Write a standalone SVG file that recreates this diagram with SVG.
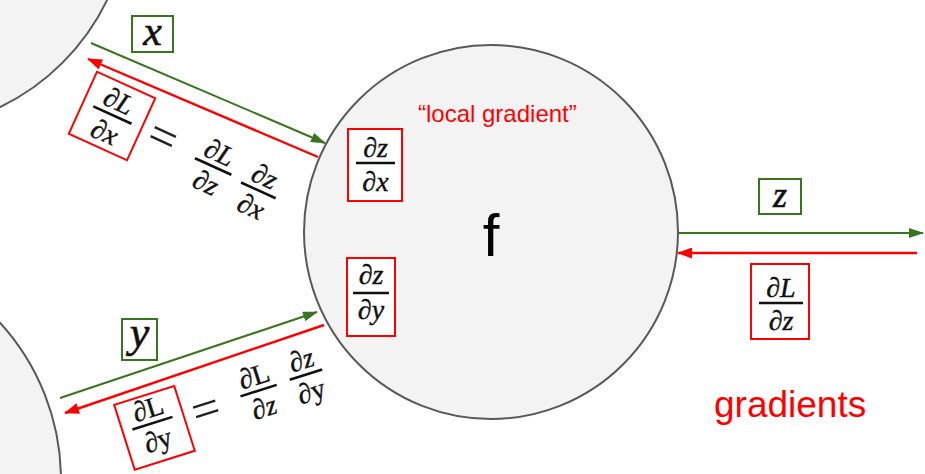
<svg xmlns="http://www.w3.org/2000/svg" width="925" height="474" viewBox="0 0 925 474">
<style>
.node{fill:#f3f3f3;stroke:#595959;stroke-width:2}
.m{font-family:"Liberation Serif","DejaVu Serif",serif;font-style:italic;font-size:28px;text-anchor:middle;fill:#111;stroke:#111;stroke-width:0.4}
.u{font-style:normal}
.lbl{font-family:"Liberation Serif","DejaVu Serif",serif;font-style:italic;text-anchor:middle;fill:#111;stroke:#111;stroke-width:0.6}
.eq{font-family:"Liberation Serif","DejaVu Serif",serif;font-size:50px;text-anchor:middle;fill:#222}
.bar{stroke:#111;stroke-width:2.6}
.rbox{fill:#fff;stroke:#ff0000;stroke-width:2}
.gbox{fill:#fff;stroke:#38761d;stroke-width:2}
.g{stroke:#38761d;stroke-width:2;fill:none}
.r{stroke:#ff0000;stroke-width:2.4;fill:none}
.sans{font-family:"Liberation Sans",Arial,sans-serif}
</style>
<defs>
<marker id="ag" markerUnits="userSpaceOnUse" markerWidth="15" markerHeight="10" refX="14" refY="5" orient="auto"><path d="M0,0 L15,5 L0,10 z" fill="#38761d"/></marker>
<marker id="ar" markerUnits="userSpaceOnUse" markerWidth="15" markerHeight="11" refX="14" refY="5.5" orient="auto"><path d="M0,0 L15,5.5 L0,11 z" fill="#ff0000"/></marker>
</defs>
<rect width="925" height="474" fill="#fff"/>

<g id="node-input-x">
<circle class="node" cx="-100" cy="-100" r="230"/>
</g>
<g id="node-input-y">
<circle class="node" cx="-172" cy="480" r="233"/>
</g>

<g id="node-f">
<circle class="node" cx="491" cy="232" r="187"/>
<text class="sans" x="491" y="256" font-size="60" text-anchor="middle" fill="#000">f</text>
<text class="sans" x="418" y="122" font-size="24" fill="#ff0000">“local gradient”</text>
<g id="local-dzdx">
<rect class="rbox" x="348" y="129" width="54" height="72"/>
<text class="m" x="375.5" y="157">∂z</text>
<line class="bar" x1="356" y1="163" x2="395" y2="163"/>
<text class="m" x="375.5" y="191">∂x</text>
</g>
<g id="local-dzdy">
<rect class="rbox" x="347" y="258" width="48" height="78"/>
<text class="m" x="371" y="284">∂z</text>
<line class="bar" x1="353" y1="293" x2="389" y2="293"/>
<text class="m" x="371" y="319">∂y</text>
</g>
</g>

<g id="connectors">
<line class="g" x1="91" y1="43" x2="325" y2="143" marker-end="url(#ag)"/>
<line class="r" x1="318" y1="157" x2="88" y2="59" marker-end="url(#ar)"/>
<line class="g" x1="60" y1="398" x2="317" y2="312" marker-end="url(#ag)"/>
<line class="r" x1="324" y1="325" x2="65" y2="413" marker-end="url(#ar)"/>
<line class="g" x1="678" y1="233" x2="923" y2="233" marker-end="url(#ag)"/>
<line class="r" x1="917" y1="253" x2="678" y2="253" marker-end="url(#ar)"/>
</g>

<g id="labels">
<g id="label-x">
<rect class="gbox" x="132" y="16" width="41" height="36"/>
<text class="lbl" x="152.5" y="45" font-size="42">x</text>
</g>
<g id="label-y">
<rect class="gbox" x="122" y="319" width="35" height="41"/>
<text class="lbl" x="139.5" y="347" font-size="44">y</text>
</g>
<g id="label-z">
<rect class="gbox" x="759" y="179" width="42" height="35"/>
<text class="lbl" x="780" y="207" font-size="36">z</text>
</g>
<g id="grad-dLdz">
<rect class="rbox" x="751" y="264" width="58" height="75"/>
<text class="m" x="781" y="297">∂L</text>
<line class="bar" x1="759" y1="303" x2="803" y2="303"/>
<text class="m" x="781" y="330">∂z</text>
</g>
<g id="eq-x" transform="translate(112,116) rotate(24.5)">
<rect class="rbox" x="-32" y="-34" width="64" height="68"/>
<text class="m" x="0" y="-7">∂L</text>
<line class="bar" x1="-21" y1="-1" x2="21" y2="-1"/>
<text class="m" x="0" y="27">∂x</text>
<text class="eq" x="55" y="14">=</text>
<text class="m" x="113" y="-2">∂L</text>
<line class="bar" x1="93" y1="4" x2="133" y2="4"/>
<text class="m" x="113" y="31">∂z</text>
<text class="m" x="164" y="1">∂z</text>
<line class="bar" x1="145" y1="7" x2="183" y2="7"/>
<text class="m" x="164" y="34">∂x</text>
</g>
<g id="eq-y" transform="translate(154,428) rotate(-17.6)">
<rect class="rbox" x="-31" y="-34" width="63" height="68"/>
<text class="m" x="0" y="-11">∂<tspan class="u">L</tspan></text>
<line class="bar" x1="-21" y1="-5" x2="21" y2="-5"/>
<text class="m" x="0" y="22">∂<tspan class="u">y</tspan></text>
<text class="eq" x="55" y="14">=</text>
<text class="m" x="111" y="-10">∂<tspan class="u">L</tspan></text>
<line class="bar" x1="92" y1="-4" x2="130" y2="-4"/>
<text class="m" x="111" y="23">∂z</text>
<text class="m" x="161" y="-11">∂z</text>
<line class="bar" x1="144" y1="-5" x2="178" y2="-5"/>
<text class="m" x="161" y="22">∂<tspan class="u">y</tspan></text>
</g>
<text class="sans" x="714" y="417" font-size="37" fill="#ff0000">gradients</text>
</g>
</svg>
